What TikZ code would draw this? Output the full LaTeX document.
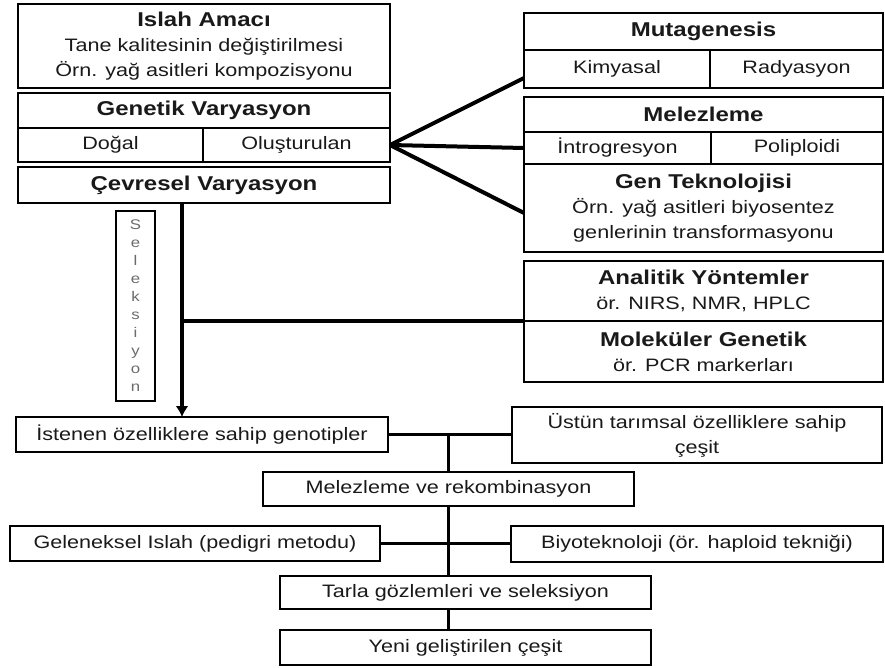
\documentclass[tikz,border=0pt]{standalone}
\usepackage{fontspec}
\setmainfont{Liberation Sans}[FakeStretch=1.2]
\usetikzlibrary{arrows.meta}
\definecolor{txt}{gray}{0.1}
\definecolor{seltxt}{gray}{0.42}
\newcommand{\hd}[1]{{\fontsize{20}{25}\selectfont\bfseries #1}}
\begin{document}
\begin{tikzpicture}[x=1pt,y=-1pt,
  box/.style={draw, line width=2.6pt, inner sep=0pt, outer sep=0pt, anchor=north west,
    align=center, text=txt, font=\fontsize{18}{25}\selectfont},
  conn/.style={line width=4pt},
  thin conn/.style={line width=3.4pt}
]
\useasboundingbox (0,0) rectangle (885,668);

% left column
\node[box, minimum width=372pt, minimum height=84pt] (islah) at (18,4)
  {\hd{Islah Amacı}\\Tane kalitesinin değiştirilmesi\\Örn. yağ asitleri kompozisyonu};
\node[box, minimum width=372pt, minimum height=35pt] (genhead) at (18,93) {\hd{Genetik Varyasyon}};
\node[box, minimum width=185pt, minimum height=34pt] (dogal) at (18,128) {Doğal};
\node[box, minimum width=187pt, minimum height=34pt] (olus) at (203,128) {Oluşturulan};
\node[box, minimum width=372pt, minimum height=36pt] (cevre) at (18,167) {\hd{Çevresel Varyasyon}};

% right column
\node[box, minimum width=359pt, minimum height=37pt] (mutag) at (524,13) {\hd{Mutagenesis}};
\node[box, minimum width=186pt, minimum height=38pt] (kimya) at (524,50) {Kimyasal};
\node[box, minimum width=173pt, minimum height=38pt] (radya) at (710,50) {Radyasyon};
\node[box, minimum width=359pt, minimum height=35pt] (melez) at (524,97) {\hd{Melezleme}};
\node[box, minimum width=187pt, minimum height=32pt] (intro) at (524,132) {İntrogresyon};
\node[box, minimum width=172pt, minimum height=32pt] (polip) at (711,132) {Poliploidi};
\node[box, minimum width=359pt, minimum height=88pt] (gentek) at (524,164)
  {\hd{Gen Teknolojisi}\\Örn. yağ asitleri biyosentez\\genlerinin transformasyonu};
\node[box, minimum width=359pt, minimum height=60pt] (analit) at (524,261)
  {\hd{Analitik Yöntemler}\\ör. NIRS, NMR, HPLC};
\node[box, minimum width=359pt, minimum height=61pt] (molek) at (524,321)
  {\hd{Moleküler Genetik}\\ör. PCR markerları};

% selection box
\node[box, minimum width=39pt, minimum height=190pt, text=seltxt,
  font=\fontsize{14}{18}\selectfont] (selek) at (116,211)
  {S\\e\\l\\e\\k\\s\\i\\y\\o\\n};

% lower part
\node[box, minimum width=372pt, minimum height=35pt] (isten) at (16,417) {İstenen özelliklere sahip genotipler};
\node[box, minimum width=370pt, minimum height=56pt] (ustun) at (512,407) {Üstün tarımsal özelliklere sahip\\çeşit};
\node[box, minimum width=371pt, minimum height=34pt] (melrek) at (263,472) {Melezleme ve rekombinasyon};
\node[box, minimum width=370pt, minimum height=35pt] (gelen) at (10,526) {Geleneksel Islah (pedigri metodu)};
\node[box, minimum width=372pt, minimum height=36pt] (biyo) at (511,526) {Biyoteknoloji (ör. haploid tekniği)};
\node[box, minimum width=371pt, minimum height=33pt] (tarla) at (280,576) {Tarla gözlemleri ve seleksiyon};
\node[box, minimum width=371pt, minimum height=35pt] (yeni) at (280,630) {Yeni geliştirilen çeşit};

% connectors top
\draw[conn] (olus.east) -- (kimya.west |- 0,78);
\draw[conn] (olus.east) -- (intro.west);
\draw[conn] (olus.east) -- (gentek.west |- 0,213);

% main arrow and link to analytic methods
\draw[conn, -{Latex[length=11pt,width=13pt]}] (cevre.south -| 182,0) -- (isten.north -| 182,0);
\draw[conn] (analit.south west -| 182,0) -- (analit.south west);

% lower connectors
\draw[thin conn] (isten.east) -- (ustun.west |- isten.east);
\draw[thin conn] (isten.east -| melrek.north) -- (melrek.north);
\draw[thin conn] (melrek.south) -- (melrek.south |- tarla.north);
\draw[thin conn] (gelen.east) -- (biyo.west |- gelen.east);
\draw[thin conn] (tarla.south -| melrek.south) -- (yeni.north -| melrek.south);
\end{tikzpicture}
\end{document}
